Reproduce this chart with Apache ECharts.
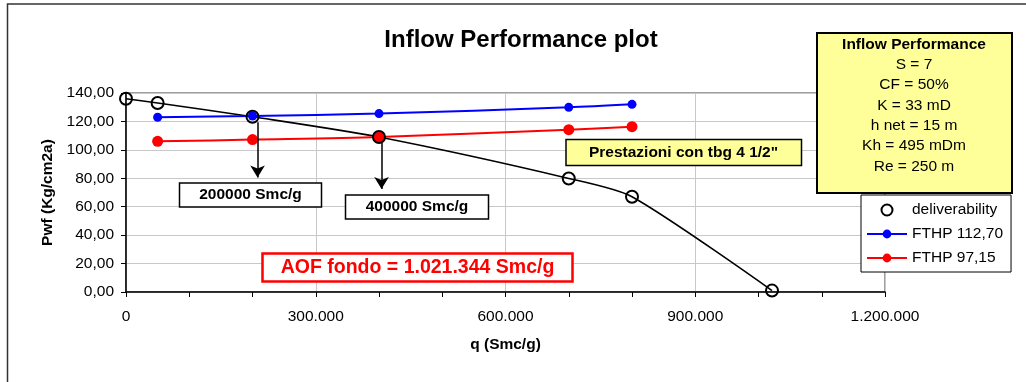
<!DOCTYPE html>
<html><head><meta charset="utf-8">
<script src="https://cdn.jsdelivr.net/npm/echarts@6/dist/echarts.min.js"></script>
<style>html,body{margin:0;padding:0;background:#fff}#c{width:1026px;height:382px}</style>
</head><body><div id="c"></div>
<script>
// ---- data ----
const delivQ = [0, 50000, 200000, 400000, 700000, 800000, 1021344];
const delivP = [136.0, 133.0, 123.3, 109.0, 79.9, 67.0, 1.0];
const fthpQ = [50000, 200000, 400000, 700000, 800000];
const fthp112 = [122.9, 123.8, 125.5, 129.9, 132.0];
const fthp97 = [106.0, 107.2, 109.0, 114.2, 116.3];
const infoLines = ['S = 7', 'CF = 50%', 'K = 33 mD', 'h net = 15 m', 'Kh = 495 mDm', 'Re = 250 m'];
const yTicks = [0, 20, 40, 60, 80, 100, 120, 140];
const xTicks = [0, 300000, 600000, 900000, 1200000];

const FONT = '"Liberation Sans", Arial, sans-serif';
const zip = (a, b) => a.map((v, i) => [v, b[i]]);

const chart = echarts.init(document.getElementById('c'));

function fmtX(v) {
  return String(Math.round(v)).replace(/\B(?=(\d{3})+(?!\d))/g, '.');
}

const option = {
  animation: false,
  backgroundColor: '#fff',
  textStyle: { fontFamily: FONT },
  grid: { left: 126, right: 141, top: 93, bottom: 90, show: true, borderColor: '#808080', borderWidth: 1.5 },
  xAxis: {
    type: 'value', min: xTicks[0], max: xTicks[xTicks.length - 1], interval: 300000,
    axisLine: { show: true, lineStyle: { color: '#000', width: 1.5 } },
    axisTick: { show: true, inside: false, length: 5, lineStyle: { color: '#000' } },
    minorTick: { show: true, splitNumber: 3, length: 5, lineStyle: { color: '#000' } },
    axisLabel: { formatter: fmtX, color: '#000', fontSize: 15.5, fontFamily: FONT, margin: 17 },
    splitLine: { show: true, lineStyle: { color: '#c8c8c8', width: 1 } },
    name: 'q (Smc/g)', nameLocation: 'middle', nameGap: 45,
    nameTextStyle: { fontWeight: 'bold', fontSize: 15.5, color: '#000', fontFamily: FONT }
  },
  yAxis: {
    type: 'value', min: yTicks[0], max: yTicks[yTicks.length - 1], interval: 20,
    axisLine: { show: true, lineStyle: { color: '#000', width: 1.5 } },
    axisTick: { show: true, length: 5, lineStyle: { color: '#000' } },
    axisLabel: { formatter: v => v.toFixed(2).replace('.', ','), color: '#000', fontSize: 15.5, fontFamily: FONT, margin: 12 },
    splitLine: { show: true, lineStyle: { color: '#c8c8c8', width: 1 } },
    name: 'Pwf (Kg/cm2a)', nameLocation: 'middle', nameGap: 68,
    nameTextStyle: { fontWeight: 'bold', fontSize: 15.5, color: '#000', fontFamily: FONT }
  },
  legend: {
    orient: 'vertical', left: 861, top: 195, width: 140,
    backgroundColor: '#fff', borderColor: '#000', borderWidth: 1,
    padding: [7, 8, 6, 5], itemGap: 8, itemWidth: 40, itemHeight: 11, itemTextGap: 4,
    textStyle: { fontSize: 15.5, color: '#000', fontFamily: FONT },
    data: [
      { name: 'deliverability', icon: 'emptyCircle', itemStyle: { color: '#000', borderColor: '#000', borderWidth: 2 } },
      { name: 'FTHP 112,70' },
      { name: 'FTHP 97,15' }
    ]
  },
  series: [
    {
      name: 'curve', type: 'line', data: zip(delivQ, delivP), smooth: 0.25,
      showSymbol: false, symbol: 'none', lineStyle: { color: '#000', width: 1.6 }, z: 2,
      markLine: {
        silent: true, symbol: ['none', 'arrow'], symbolSize: [11, 12],
        lineStyle: { color: '#000', width: 1.5, type: 'solid' }, label: { show: false },
        data: [
          [{ coord: [208000, 119.5] }, { coord: [208000, 80.5] }],
          [{ coord: [404000, 105] }, { coord: [404000, 72.5] }]
        ]
      }
    },
    {
      name: 'FTHP 112,70', type: 'line', data: zip(fthpQ, fthp112), smooth: 0.3,
      symbol: 'circle', symbolSize: 9, itemStyle: { color: '#0000ff' },
      lineStyle: { color: '#0000ff', width: 2 }, z: 3
    },
    {
      name: 'FTHP 97,15', type: 'line', data: zip(fthpQ, fthp97), smooth: 0.3,
      symbol: 'circle', symbolSize: 11, itemStyle: { color: '#ff0000' },
      lineStyle: { color: '#ff0000', width: 2 }, z: 3
    },
    {
      name: 'deliverability', type: 'scatter', data: zip(delivQ, delivP),
      symbol: 'circle', symbolSize: 12,
      itemStyle: { color: 'rgba(255,255,255,0)', borderColor: '#000', borderWidth: 2, opacity: 1 }, z: 5
    }
  ],
  graphic: [
    // outer frame
    { type: 'rect', shape: { x: 7.5, y: 4, width: 1100, height: 500 }, style: { fill: 'none', stroke: '#333', lineWidth: 1.5 }, z: 1, silent: true },
    { type: 'text', x: 521, y: 40, style: { text: 'Inflow Performance plot', font: 'bold 24px ' + FONT, fill: '#000', textAlign: 'center', textVerticalAlign: 'middle' }, z: 10 },
    // info box
    { type: 'rect', shape: { x: 817, y: 33, width: 195, height: 160 }, style: { fill: '#ffff99', stroke: '#000', lineWidth: 2 }, z: 20 },
    { type: 'text', x: 914, y: 44.5, style: { text: 'Inflow Performance', font: 'bold 15.5px ' + FONT, fill: '#000', textAlign: 'center', textVerticalAlign: 'middle' }, z: 21 },
    ...infoLines.map((t, i) => ({ type: 'text', x: 914, y: 64.5 + i * 20.4, style: { text: t, font: '15.5px ' + FONT, fill: '#000', textAlign: 'center', textVerticalAlign: 'middle' }, z: 21 })),
    // Prestazioni box
    { type: 'rect', shape: { x: 566, y: 139.5, width: 235.5, height: 26 }, style: { fill: '#ffff99', stroke: '#000', lineWidth: 1.5 }, z: 20 },
    { type: 'text', x: 683.5, y: 152.5, style: { text: 'Prestazioni con tbg 4 1/2"', font: 'bold 15.5px ' + FONT, fill: '#000', textAlign: 'center', textVerticalAlign: 'middle' }, z: 21 },
    // 200000 box
    { type: 'rect', shape: { x: 179.5, y: 183, width: 142, height: 24 }, style: { fill: '#fff', stroke: '#000', lineWidth: 1.5 }, z: 20 },
    { type: 'text', x: 250.5, y: 195, style: { text: '200000 Smc/g', font: 'bold 15.5px ' + FONT, fill: '#000', textAlign: 'center', textVerticalAlign: 'middle' }, z: 21 },
    // 400000 box
    { type: 'rect', shape: { x: 345.5, y: 195, width: 143, height: 24 }, style: { fill: '#fff', stroke: '#000', lineWidth: 1.5 }, z: 20 },
    { type: 'text', x: 417, y: 207, style: { text: '400000 Smc/g', font: 'bold 15.5px ' + FONT, fill: '#000', textAlign: 'center', textVerticalAlign: 'middle' }, z: 21 },
    // AOF box
    { type: 'rect', shape: { x: 262.5, y: 253.5, width: 310, height: 28 }, style: { fill: '#fff', stroke: '#ff0000', lineWidth: 2.5 }, z: 20 },
    { type: 'text', x: 417.5, y: 268, style: { text: 'AOF fondo = 1.021.344 Smc/g', font: 'bold 19.5px ' + FONT, fill: '#ff0000', textAlign: 'center', textVerticalAlign: 'middle' }, z: 21 }
  ]
};
chart.setOption(option);
</script></body></html>
